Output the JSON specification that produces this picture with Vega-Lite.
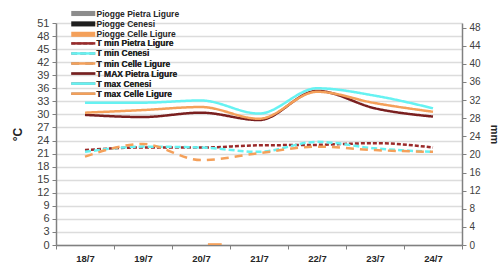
{
  "$schema": "https://vega.github.io/schema/vega-lite/v6.json",
  "autosize": "none",
  "width": 406,
  "height": 222,
  "padding": {"left": 56, "top": 23, "right": 42, "bottom": 22},
  "background": "white",
  "config": {
    "view": {"stroke": null},
    "font": "Liberation Sans",
    "axis": {"labelFont": "Liberation Sans", "titleFont": "Liberation Sans", "domainColor": "#808080", "tickColor": "#808080", "labelColor": "#404040"},
    "legend": {"labelFont": "Liberation Sans", "labelFontSize": 8.5, "labelFontWeight": "bold", "labelColor": "#262626", "rowPadding": 1.4, "labelOffset": 16.5, "padding": 0}
  },
  "datasets": {
    "temps": [
      {"date": "18/7", "series": "T min Pietra Ligure", "value": 21.8},
      {"date": "19/7", "series": "T min Pietra Ligure", "value": 22.4},
      {"date": "20/7", "series": "T min Pietra Ligure", "value": 22.4},
      {"date": "21/7", "series": "T min Pietra Ligure", "value": 22.9},
      {"date": "22/7", "series": "T min Pietra Ligure", "value": 23.0},
      {"date": "23/7", "series": "T min Pietra Ligure", "value": 23.4},
      {"date": "24/7", "series": "T min Pietra Ligure", "value": 22.4},
      {"date": "18/7", "series": "T min Cenesi", "value": 21.4},
      {"date": "19/7", "series": "T min Cenesi", "value": 22.6},
      {"date": "20/7", "series": "T min Cenesi", "value": 22.4},
      {"date": "21/7", "series": "T min Cenesi", "value": 21.4},
      {"date": "22/7", "series": "T min Cenesi", "value": 23.7},
      {"date": "23/7", "series": "T min Cenesi", "value": 22.2},
      {"date": "24/7", "series": "T min Cenesi", "value": 21.4},
      {"date": "18/7", "series": "T min Celle Ligure", "value": 20.3},
      {"date": "19/7", "series": "T min Celle Ligure", "value": 23.2},
      {"date": "20/7", "series": "T min Celle Ligure", "value": 19.5},
      {"date": "21/7", "series": "T min Celle Ligure", "value": 21.1},
      {"date": "22/7", "series": "T min Celle Ligure", "value": 22.6},
      {"date": "23/7", "series": "T min Celle Ligure", "value": 21.8},
      {"date": "24/7", "series": "T min Celle Ligure", "value": 21.4},
      {"date": "18/7", "series": "T MAX Pietra Ligure", "value": 29.9},
      {"date": "19/7", "series": "T MAX Pietra Ligure", "value": 29.4},
      {"date": "20/7", "series": "T MAX Pietra Ligure", "value": 30.4},
      {"date": "21/7", "series": "T MAX Pietra Ligure", "value": 28.7},
      {"date": "22/7", "series": "T MAX Pietra Ligure", "value": 35.4},
      {"date": "23/7", "series": "T MAX Pietra Ligure", "value": 31.4},
      {"date": "24/7", "series": "T MAX Pietra Ligure", "value": 29.5},
      {"date": "18/7", "series": "T max Cenesi", "value": 32.7},
      {"date": "19/7", "series": "T max Cenesi", "value": 32.7},
      {"date": "20/7", "series": "T max Cenesi", "value": 33.2},
      {"date": "21/7", "series": "T max Cenesi", "value": 30.2},
      {"date": "22/7", "series": "T max Cenesi", "value": 36.0},
      {"date": "23/7", "series": "T max Cenesi", "value": 34.3},
      {"date": "24/7", "series": "T max Cenesi", "value": 31.4},
      {"date": "18/7", "series": "T max Celle Ligure", "value": 30.4},
      {"date": "19/7", "series": "T max Celle Ligure", "value": 31.0},
      {"date": "20/7", "series": "T max Celle Ligure", "value": 31.7},
      {"date": "21/7", "series": "T max Celle Ligure", "value": 29.0},
      {"date": "22/7", "series": "T max Celle Ligure", "value": 35.2},
      {"date": "23/7", "series": "T max Celle Ligure", "value": 32.6},
      {"date": "24/7", "series": "T max Celle Ligure", "value": 30.6}
    ],
    "rain": [
      {"date": "18/7", "series": "Piogge Pietra Ligure", "mm": 0},
      {"date": "19/7", "series": "Piogge Pietra Ligure", "mm": 0},
      {"date": "20/7", "series": "Piogge Pietra Ligure", "mm": 0},
      {"date": "21/7", "series": "Piogge Pietra Ligure", "mm": 0},
      {"date": "22/7", "series": "Piogge Pietra Ligure", "mm": 0},
      {"date": "23/7", "series": "Piogge Pietra Ligure", "mm": 0},
      {"date": "24/7", "series": "Piogge Pietra Ligure", "mm": 0},
      {"date": "18/7", "series": "Piogge Cenesi", "mm": 0},
      {"date": "19/7", "series": "Piogge Cenesi", "mm": 0},
      {"date": "20/7", "series": "Piogge Cenesi", "mm": 0},
      {"date": "21/7", "series": "Piogge Cenesi", "mm": 0},
      {"date": "22/7", "series": "Piogge Cenesi", "mm": 0},
      {"date": "23/7", "series": "Piogge Cenesi", "mm": 0},
      {"date": "24/7", "series": "Piogge Cenesi", "mm": 0},
      {"date": "18/7", "series": "Piogge Celle Ligure", "mm": 0},
      {"date": "19/7", "series": "Piogge Celle Ligure", "mm": 0},
      {"date": "20/7", "series": "Piogge Celle Ligure", "mm": 0.4},
      {"date": "21/7", "series": "Piogge Celle Ligure", "mm": 0},
      {"date": "22/7", "series": "Piogge Celle Ligure", "mm": 0},
      {"date": "23/7", "series": "Piogge Celle Ligure", "mm": 0},
      {"date": "24/7", "series": "Piogge Celle Ligure", "mm": 0}
    ]
  },
  "encoding": {
    "x": {
      "field": "date", "type": "nominal", "sort": null,
      "scale": {"paddingInner": 0, "paddingOuter": 0},
      "axis": {"title": null, "labelAngle": 0, "labelFontWeight": "bold", "labelFontSize": 9.5, "labelColor": "#262626", "tickBand": "extent", "tickSize": 4, "labelPadding": 4, "domainWidth": 1.5}
    }
  },
  "layer": [
    {
      "data": {"name": "rain"},
      "mark": {"type": "bar", "clip": true},
      "encoding": {
        "xOffset": {"field": "series", "type": "nominal", "sort": ["Piogge Pietra Ligure", "Piogge Cenesi", "Piogge Celle Ligure"], "scale": {"paddingInner": 0, "paddingOuter": 0.6}},
        "y": {
          "field": "mm", "type": "quantitative",
          "scale": {"domain": [0, 49], "nice": false, "zero": true},
          "axis": {"orient": "right", "title": "mm", "titleFontWeight": "bold", "titleFontSize": 11, "titleColor": "#262626", "titlePadding": 8, "values": [0,4,8,12,16,20,24,28,32,36,40,44,48], "grid": false, "labelFontSize": 10, "tickSize": 4, "labelPadding": 3, "domainWidth": 1.5}
        },
        "color": {
          "field": "series", "type": "nominal",
          "scale": {"domain": ["Piogge Pietra Ligure", "Piogge Cenesi", "Piogge Celle Ligure"], "range": ["#8c8c8c", "#1f1f1f", "#f4a05a"]},
          "legend": {"title": null, "orient": "none", "legendX": 15, "legendY": -14, "symbolType": "M-1,-0.6H4.65V0.6H-1Z", "symbolSize": 72.25, "symbolStrokeWidth": 0}
        }
      }
    },
    {
      "data": {"name": "temps"},
      "mark": {"type": "line", "interpolate": "monotone", "strokeWidth": 2.5},
      "encoding": {
        "y": {
          "field": "value", "type": "quantitative",
          "scale": {"domain": [0, 51], "nice": false},
          "axis": {"orient": "left", "title": "°C", "titleFontWeight": "bold", "titleFontSize": 12, "titleColor": "#262626", "titlePadding": 12, "values": [0,3,6,9,12,15,18,21,24,27,30,33,36,39,42,45,48,51], "grid": true, "gridColor": "#dcdcdc", "gridWidth": 1.5, "labelFontSize": 11, "tickSize": 4, "labelPadding": 3, "domainWidth": 1.5}
        },
        "color": {
          "field": "series", "type": "nominal",
          "scale": {"domain": ["T min Pietra Ligure", "T min Cenesi", "T min Celle Ligure", "T MAX Pietra Ligure", "T max Cenesi", "T max Celle Ligure"], "range": ["#9b2a2a", "#66f2f2", "#f4a05a", "#7a1f1f", "#66f2f2", "#f4a05a"]},
          "legend": {"title": null, "orient": "none", "legendX": 15, "legendY": 15.9, "rowPadding": -0.95, "symbolType": "M-1.42,0H6.6", "symbolSize": 36, "symbolStrokeWidth": 2.5}
        },
        "strokeDash": {
          "field": "series", "type": "nominal",
          "scale": {"domain": ["T min Pietra Ligure", "T min Cenesi", "T min Celle Ligure", "T MAX Pietra Ligure", "T max Cenesi", "T max Celle Ligure"], "range": [[4, 2], [6, 3], [8, 6], [1, 0], [1, 0], [1, 0]]},
          "legend": {"title": null, "orient": "none", "legendX": 15, "legendY": 15.9, "rowPadding": -0.95, "symbolType": "M-1.42,0H6.6", "symbolSize": 36, "symbolStrokeWidth": 2.5}
        }
      }
    }
  ],
  "resolve": {"scale": {"y": "independent", "color": "independent", "xOffset": "independent"}}
}
